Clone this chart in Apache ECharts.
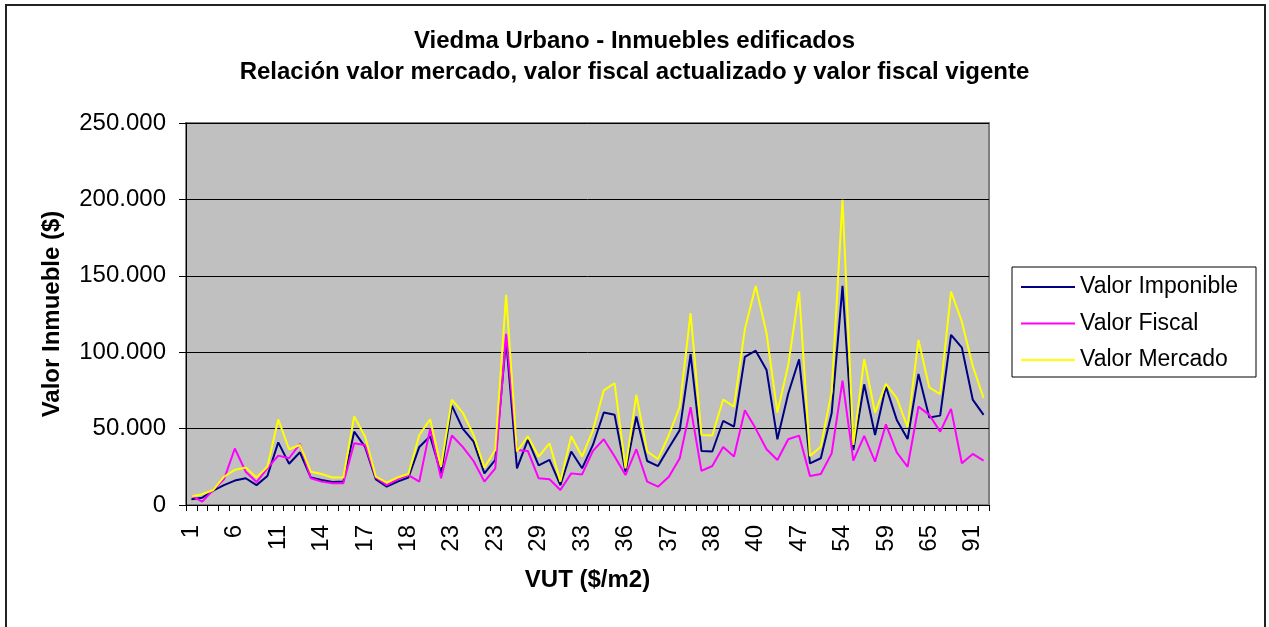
<!DOCTYPE html>
<html>
<head>
<meta charset="utf-8">
<script src="https://cdn.jsdelivr.net/npm/echarts@6/dist/echarts.min.js"></script>
<style>
html,body{margin:0;padding:0;background:#fff;}
#c{width:1269px;height:627px;}
</style>
</head>
<body>
<div id="c"></div>
<script>
const categories = [1,2,3,5,6,7,8,10,11,12,13,13,14,15,15,16,17,17,18,18,18,20,21,22,23,23,23,23,23,25,26,28,29,30,31,32,33,34,35,35,36,36,37,37,37,37,38,38,38,39,39,40,40,42,44,45,47,49,50,52,54,55,56,58,59,60,62,63,65,70,75,85,91,96].map(String);

const valorImponible = [3700,4800,9400,13000,16000,17500,13000,19000,41000,27000,34500,18000,16400,15000,15300,48000,38000,16800,12000,15300,18000,38000,45000,20700,65000,50000,41500,20700,29500,108000,24000,42600,26000,29500,13000,35000,24000,39300,60500,59000,21800,57900,28800,25500,37500,49000,98700,35400,35000,55000,51300,97000,101000,88400,43000,73000,95400,27300,30600,60000,143400,36000,79000,45800,77500,55700,43200,85800,57200,58500,111400,103000,69000,59000];

const valorFiscal = [6000,2200,9800,16800,37000,21800,15000,24000,32300,30600,40000,17500,15300,14200,14200,40400,39300,18000,13000,16800,19600,15300,50000,17500,45500,38000,28800,15300,24000,112000,36000,35400,17500,16800,9800,20700,20000,35400,43000,31700,19600,36500,15300,12000,18500,30600,64000,22300,25500,38000,31700,62000,50000,36500,29500,43000,45400,19000,20300,33800,81400,29000,45200,28400,52800,34500,25000,64400,59000,48000,62900,27300,33400,29000];

const valorMercado = [5500,7000,9800,18500,23000,24500,18000,25000,56000,36500,39300,21800,20300,18000,18000,58000,44800,18500,14600,18000,20300,45800,56000,25000,69000,60500,45800,24500,36000,137500,35000,45000,31700,40400,15300,45000,31700,49000,75000,79700,24000,72000,35000,30000,45800,64400,125500,45800,45500,69000,64400,115000,143400,112400,60500,91700,139700,32000,38200,74000,199800,39300,95400,60500,79300,70000,50900,108000,76900,72500,139700,120000,91000,70000];

const titleLines = ['Viedma Urbano - Inmuebles edificados','Relación valor mercado, valor fiscal actualizado y valor fiscal vigente'];
const seriesNames = ['Valor Imponible','Valor Fiscal','Valor Mercado'];
const seriesColors = ['#000080','#FF00FF','#FFFF00'];
const FONT = '"Liberation Sans", Arial, sans-serif';

function fmt(v){ return String(Math.round(v)).replace(/\B(?=(\d{3})+(?!\d))/g,'.'); }

const chart = echarts.init(document.getElementById('c'), null, {renderer:'canvas'});
chart.setOption({
  animation:false,
  backgroundColor:'#ffffff',
  textStyle:{fontFamily:FONT},
  title:[
    {text:titleLines[0],left:'center',top:29,padding:0,textStyle:{fontFamily:FONT,fontSize:24,fontWeight:'bold',color:'#000'}},
    {text:titleLines[1],left:'center',top:60,padding:0,textStyle:{fontFamily:FONT,fontSize:24,fontWeight:'bold',color:'#000'}}
  ],
  graphic:[
    {type:'rect',shape:{x:6,y:5,width:1259,height:640},style:{fill:null,stroke:'#222',lineWidth:2},silent:true,z:-1},
    {type:'rect',shape:{x:1012,y:267,width:244,height:110},style:{fill:'#fff',stroke:'#000',lineWidth:1},silent:true,z:1}
  ],
  legend:{
    orient:'vertical', left:1021, top:275,
    icon:'rect', itemWidth:54, itemHeight:2, itemGap:12.5,
    padding:0, z:5,
    textStyle:{fontFamily:FONT,fontSize:23,color:'#000',lineHeight:24},
    data:seriesNames
  },
  grid:{left:186,right:280,top:123,bottom:122,show:true,backgroundColor:'#C0C0C0',borderColor:'#808080',borderWidth:2},
  xAxis:{
    type:'category', data:categories, boundaryGap:true,
    name:'VUT ($/m2)', nameLocation:'middle', nameGap:63,
    nameTextStyle:{fontFamily:FONT,fontSize:24,fontWeight:'bold',color:'#000'},
    axisLine:{lineStyle:{color:'#000',width:1}},
    axisTick:{show:true,interval:0,length:6,lineStyle:{color:'#000'}},
    axisLabel:{interval:3,rotate:90,margin:20,fontFamily:FONT,fontSize:24,color:'#000'},
    splitLine:{show:false}
  },
  yAxis:{
    type:'value', min:0, max:250000, interval:50000,
    name:'Valor Inmueble ($)', nameLocation:'middle', nameGap:122,
    nameTextStyle:{fontFamily:FONT,fontSize:24,fontWeight:'bold',color:'#000'},
    axisLine:{show:true,lineStyle:{color:'#000',width:1}},
    axisTick:{show:true,length:7,lineStyle:{color:'#000'}},
    axisLabel:{margin:20,fontFamily:FONT,fontSize:24,color:'#000',formatter:fmt},
    splitLine:{show:true,lineStyle:{color:'#000',width:1}}
  },
  series:[
    {name:seriesNames[0],type:'line',data:valorImponible,symbol:'none',lineStyle:{color:seriesColors[0],width:2},itemStyle:{color:seriesColors[0]}},
    {name:seriesNames[1],type:'line',data:valorFiscal,symbol:'none',lineStyle:{color:seriesColors[1],width:2},itemStyle:{color:seriesColors[1]}},
    {name:seriesNames[2],type:'line',data:valorMercado,symbol:'none',lineStyle:{color:seriesColors[2],width:2},itemStyle:{color:seriesColors[2]}}
  ]
});
</script>
</body>
</html>
